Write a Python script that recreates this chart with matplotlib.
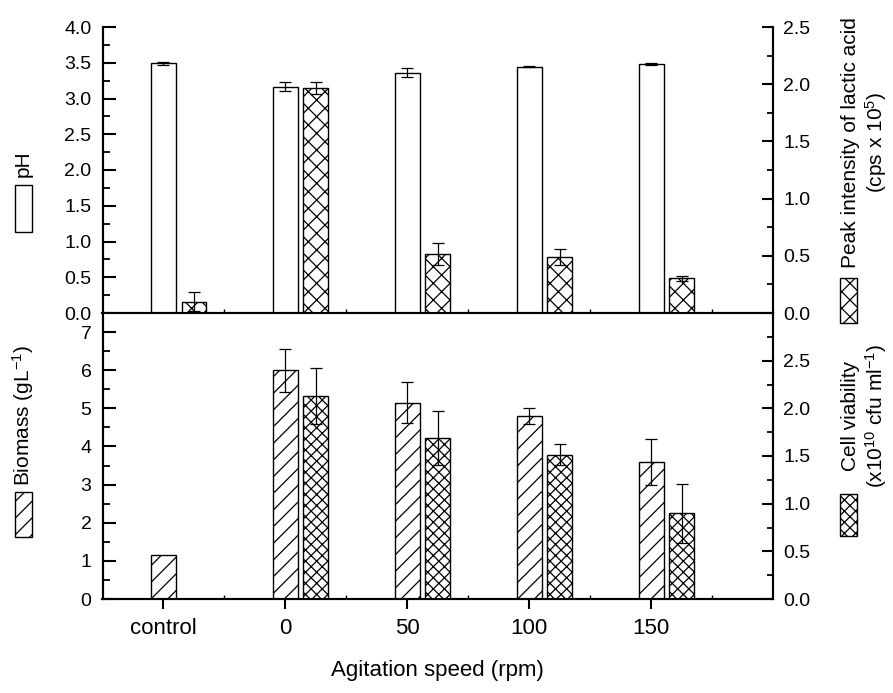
import numpy as np
import matplotlib
matplotlib.use("Agg")
import matplotlib.pyplot as plt
from matplotlib.patches import Rectangle
from matplotlib.ticker import MultipleLocator, FixedLocator, FormatStrFormatter

plt.rcParams['font.family'] = ['Liberation Sans', 'DejaVu Sans']
plt.rcParams['mathtext.fontset'] = 'custom'
plt.rcParams['mathtext.rm'] = 'Liberation Sans'
plt.rcParams['mathtext.it'] = 'Liberation Sans:italic'
plt.rcParams['hatch.linewidth'] = 0.9

# ---- data ----
categories = ['control', '0', '50', '100', '150']
speed_pos = [-50, 0, 50, 100, 150]

ph = [3.49, 3.165, 3.36, 3.445, 3.483]
ph_err = [0.02, 0.06, 0.06, 0.01, 0.01]
lactic = [0.10, 1.965, 0.518, 0.489, 0.303]
lactic_err = [0.08, 0.05, 0.095, 0.067, 0.02]

biomass = [1.16, 6.00, 5.15, 4.79, 3.59]
biomass_err = [np.nan, 0.56, 0.54, 0.21, 0.61]
viability = [np.nan, 2.13, 1.69, 1.514, 0.90]
viability_err = [np.nan, 0.29, 0.28, 0.11, 0.31]

# ---- layout ----
W, H = 893, 693
fig = plt.figure(figsize=(W / 100, H / 100), dpi=100)
L, R = 102.5, 773.3
T, M, B = 27, 313, 599
ax1 = fig.add_axes([L / W, (H - M) / H, (R - L) / W, (M - T) / H])
ax2 = fig.add_axes([L / W, (H - B) / H, (R - L) / W, (B - M) / H], sharex=ax1)
ax1r = ax1.twinx()
ax2r = ax2.twinx()

x = np.array(speed_pos, dtype=float)
bw = 10.2
off = 12.5

bar_kw = dict(width=bw, edgecolor='black', linewidth=1.0, facecolor='white')
err_kw = dict(fmt='none', ecolor='black', elinewidth=0.9, capsize=4.5, capthick=0.9)

# top panel
ax1.bar(x, ph, **bar_kw, zorder=2)
ax1.errorbar(x, ph, yerr=ph_err, **err_kw, zorder=3)
ax1r.bar(x + off, lactic, hatch='xx', **bar_kw, zorder=2)
ax1r.errorbar(x + off, lactic, yerr=lactic_err, **err_kw, zorder=3)

# bottom panel
ax2.bar(x, biomass, hatch='//', **bar_kw, zorder=2)
ax2.errorbar(x, biomass, yerr=biomass_err, **err_kw, zorder=3)
v = np.array(viability)
ve = np.array(viability_err)
mask = ~np.isnan(v)
ax2r.bar(x[mask] + off, v[mask], hatch='xxx', **bar_kw, zorder=2)
ax2r.errorbar(x[mask] + off, v[mask], yerr=ve[mask], **err_kw, zorder=3)

# limits
ax1.set_xlim(-75, 200)
ax1.set_ylim(0, 4.0)
ax1r.set_ylim(0, 2.5)
ax2.set_ylim(0, 7.5)
ax2r.set_ylim(0, 3.0)

lw = 1.5
for a in (ax1, ax2, ax1r, ax2r):
    a.spines['top'].set_visible(False)
    for k, s in a.spines.items():
        s.set_linewidth(lw)

# y ticks
for a in (ax1, ax1r):
    a.yaxis.set_major_locator(MultipleLocator(0.5))
    a.yaxis.set_minor_locator(MultipleLocator(0.25))
    a.yaxis.set_major_formatter(FormatStrFormatter('%.1f'))

ax2.yaxis.set_major_locator(FixedLocator([0, 1, 2, 3, 4, 5, 6, 7]))
ax2.yaxis.set_minor_locator(MultipleLocator(0.5))
ax2r.yaxis.set_major_locator(FixedLocator([0, 0.5, 1.0, 1.5, 2.0, 2.5]))
ax2r.yaxis.set_minor_locator(MultipleLocator(0.25))
ax2r.yaxis.set_major_formatter(FormatStrFormatter('%.1f'))

for a in (ax1, ax2):
    a.tick_params(axis='y', which='major', direction='in', length=9, width=1.5,
                  labelsize=14, pad=8, left=True, right=False)
    a.tick_params(axis='y', which='minor', direction='in', length=5, width=1.3,
                  left=True, right=False)
for a in (ax1r, ax2r):
    a.tick_params(axis='y', which='major', direction='in', length=8, width=1.5,
                  labelsize=14, pad=7)
    a.tick_params(axis='y', which='minor', direction='in', length=4, width=1.3)

# x ticks
mid = (x[:-1] + x[1:]) / 2
minor_x = list(mid) + [x[-1] + 25]
for a in (ax1, ax2):
    a.set_xticks(x)
    a.set_xticks(minor_x, minor=True)
    a.tick_params(axis='x', which='major', direction='out', length=7, width=1.5,
                  top=False, labelsize=16, pad=7)
    a.tick_params(axis='x', which='minor', direction='in', length=3, width=1.0, top=False)
ax1.tick_params(axis='x', labelbottom=False)
ax2.set_xticklabels(categories)
ax2.set_xlabel('Agitation speed (rpm)', fontsize=16, labelpad=15)

# ---- legend-like keys at the sides ----
def fx(px):
    return px / W

def fy(py):
    return (H - py) / H

def side_key(x0, x1, y0, y1, hatch, text, tx, ty):
    fig.patches.append(Rectangle((fx(x0), fy(y1)), fx(x1) - fx(x0), fy(y0) - fy(y1),
                                 transform=fig.transFigure, facecolor='white',
                                 edgecolor='black', linewidth=1.0, hatch=hatch))
    fig.text(fx(tx), fy(ty), text, rotation=90, ha='center', va='bottom',
             fontsize=15, multialignment='center', linespacing=1.15)

side_key(15, 32, 185, 232, '', 'pH', 23, 177)
side_key(15, 32, 492, 537, '//', 'Biomass (gL$^{-1}$)', 23, 486)
side_key(840, 857, 278, 323, 'xx', 'Peak intensity of lactic acid\n(cps x 10$^{5}$)', 865, 268)
side_key(840, 857, 494, 536, 'xxx', 'Cell viability\n(x10$^{10}$ cfu ml$^{-1}$)', 865, 488)

fig.savefig('out.png', dpi=100)
